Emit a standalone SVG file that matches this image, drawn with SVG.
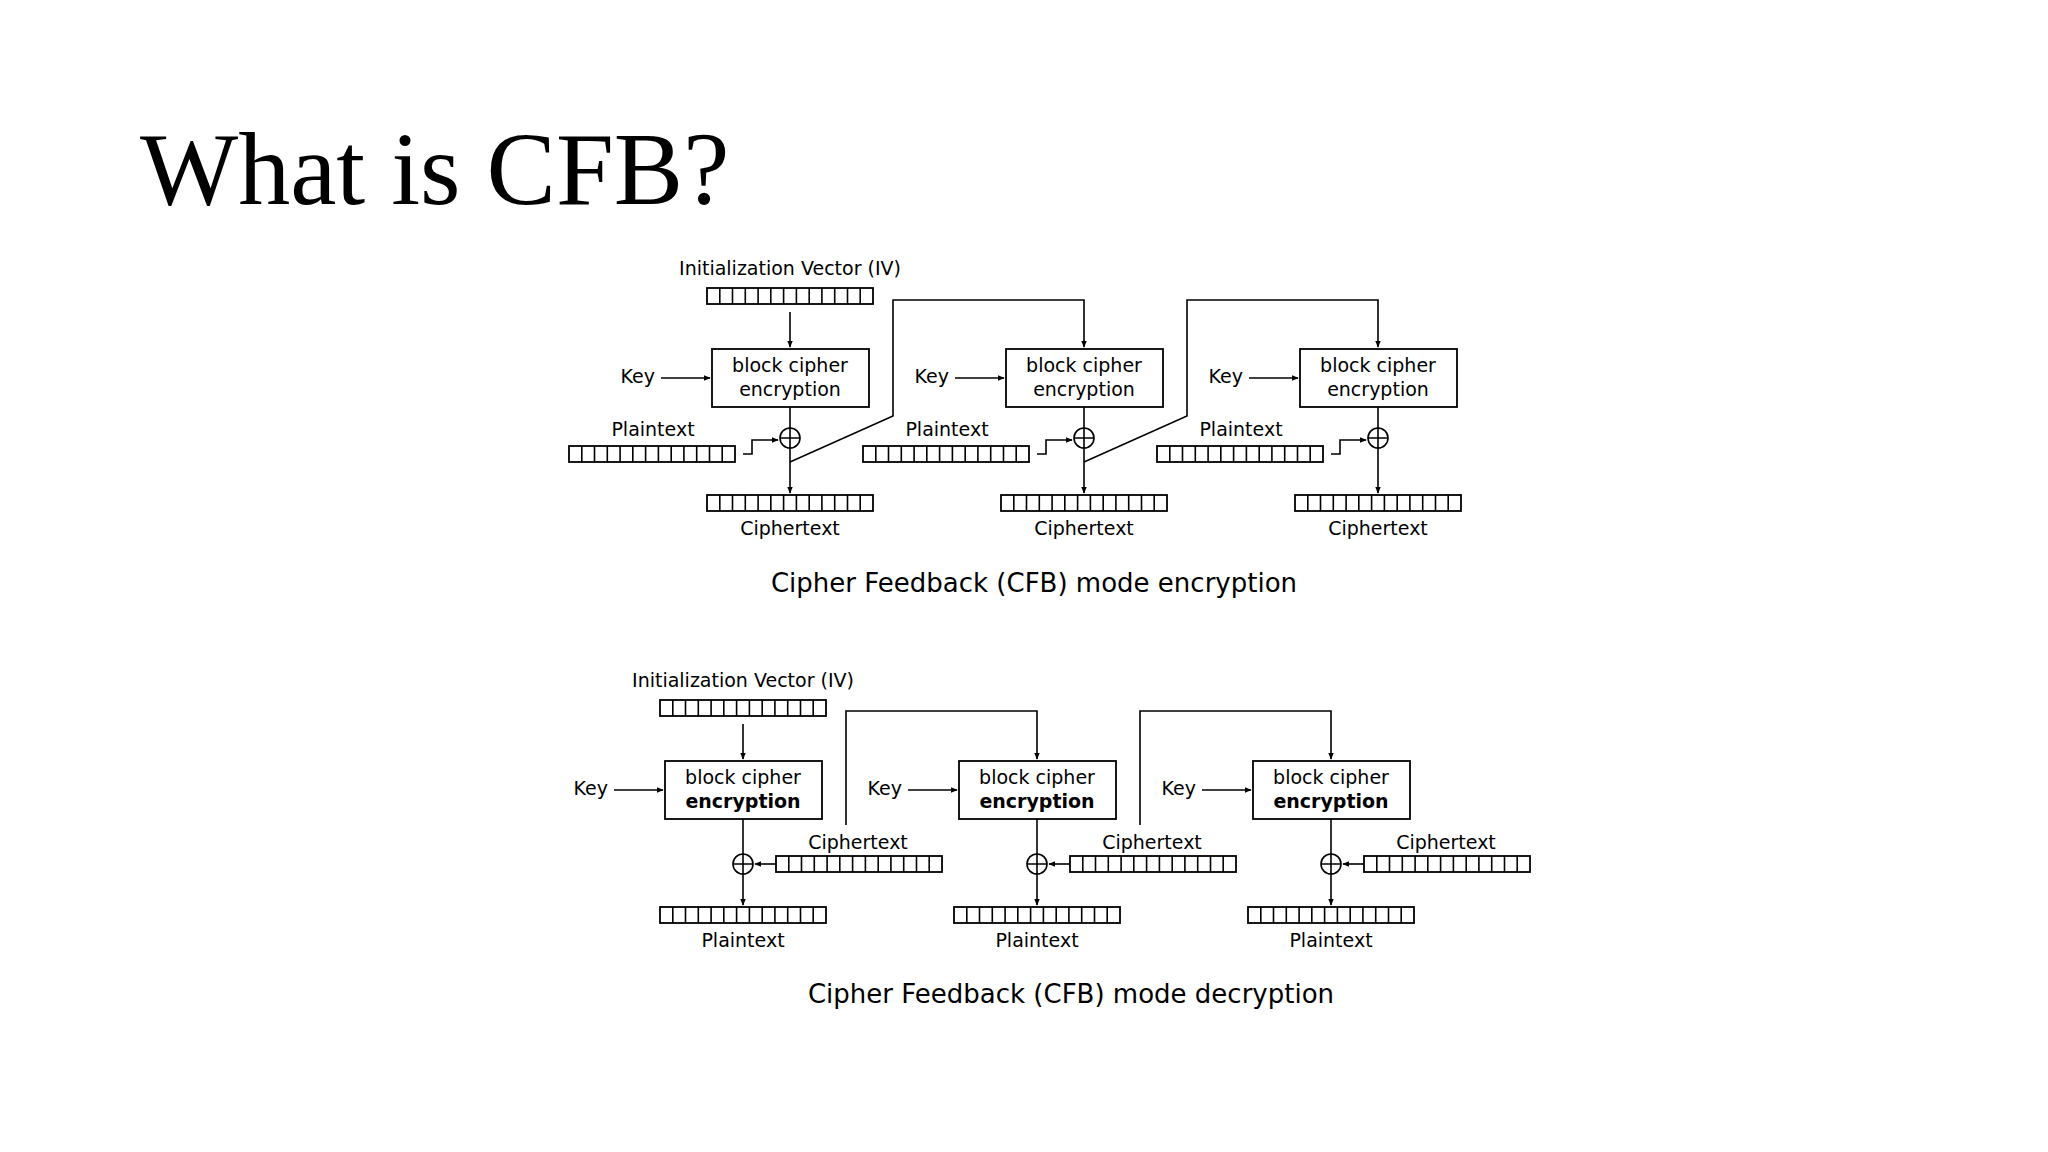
<svg xmlns="http://www.w3.org/2000/svg" xmlns:xlink="http://www.w3.org/1999/xlink" width="2048" height="1152" viewBox="0 0 2048 1152">
<style>
.t{font-family:"DejaVu Sans",sans-serif;font-size:19px;fill:#000}
.m{text-anchor:middle}
.e{text-anchor:end}
.b{font-weight:bold}
.cap{font-family:"DejaVu Sans",sans-serif;font-size:26px;text-anchor:middle}
.ln{fill:none;stroke:#000;stroke-width:1.6}
.ar{fill:none;stroke:#000;stroke-width:1.6;marker-end:url(#ah)}
.bx{fill:#fff;stroke:#000;stroke-width:1.8}
</style>
<defs>
<marker id="ah" viewBox="0 0 10 10" refX="9" refY="5" markerWidth="7" markerHeight="7" orient="auto" markerUnits="userSpaceOnUse"><path d="M0,1 L10,5 L0,9 z" fill="#000"/></marker>
<g id="bar"><rect x="0" y="0" width="166" height="16" class="bx"/><path class="ln" d="M12.8,0V16M25.5,0V16M38.3,0V16M51.1,0V16M63.8,0V16M76.6,0V16M89.4,0V16M102.2,0V16M114.9,0V16M127.7,0V16M140.5,0V16M153.2,0V16"/></g>
<g id="xor"><circle cx="0" cy="0" r="10" class="ln"/><path class="ln" d="M-10,0H10M0,-10V10"/></g>
</defs>
<rect width="2048" height="1152" fill="#fff"/>
<text x="140" y="204" font-family="Liberation Serif,serif" font-size="104">What is CFB?</text>

<g id="enc1">
<text class="t m" x="790" y="275">Initialization Vector (IV)</text>
<use href="#bar" x="707" y="288"/>
<rect class="bx" x="712" y="349" width="157" height="58"/>
<text class="t m" x="790" y="372">block cipher</text><text class="t m" x="790" y="396">encryption</text>
<text class="t e" x="655" y="383">Key</text>
<text class="t m" x="653" y="436">Plaintext</text><use href="#bar" x="569" y="446"/>
<use href="#xor" x="790" y="438"/>
<use href="#bar" x="707" y="495"/><text class="t m" x="790" y="535">Ciphertext</text>
</g>
<g id="enc2">
<use href="#bar" x="1001" y="288" visibility="hidden"/>
<rect class="bx" x="1006" y="349" width="157" height="58"/>
<text class="t m" x="1084" y="372">block cipher</text><text class="t m" x="1084" y="396">encryption</text>
<text class="t e" x="949" y="383">Key</text>
<text class="t m" x="947" y="436">Plaintext</text><use href="#bar" x="863" y="446"/>
<use href="#xor" x="1084" y="438"/>
<use href="#bar" x="1001" y="495"/><text class="t m" x="1084" y="535">Ciphertext</text>
</g>
<g id="enc3">
<rect class="bx" x="1300" y="349" width="157" height="58"/>
<text class="t m" x="1378" y="372">block cipher</text><text class="t m" x="1378" y="396">encryption</text>
<text class="t e" x="1243" y="383">Key</text>
<text class="t m" x="1241" y="436">Plaintext</text><use href="#bar" x="1157" y="446"/>
<use href="#xor" x="1378" y="438"/>
<use href="#bar" x="1295" y="495"/><text class="t m" x="1378" y="535">Ciphertext</text>
</g>
<text class="cap" x="1034" y="592">Cipher Feedback (CFB) mode encryption</text>

<g id="dec1">
<text class="t m" x="743" y="687">Initialization Vector (IV)</text>
<use href="#bar" x="660" y="700"/>
<rect class="bx" x="665" y="761" width="157" height="58"/>
<text class="t m" x="743" y="784">block cipher</text><text class="t m b" x="743" y="808">encryption</text>
<text class="t e" x="608" y="795">Key</text>
<text class="t m" x="858" y="849">Ciphertext</text><use href="#bar" x="776" y="856"/>
<use href="#xor" x="743" y="864"/>
<use href="#bar" x="660" y="907"/><text class="t m" x="743" y="947">Plaintext</text>
</g>
<g id="dec2">
<rect class="bx" x="959" y="761" width="157" height="58"/>
<text class="t m" x="1037" y="784">block cipher</text><text class="t m b" x="1037" y="808">encryption</text>
<text class="t e" x="902" y="795">Key</text>
<text class="t m" x="1152" y="849">Ciphertext</text><use href="#bar" x="1070" y="856"/>
<use href="#xor" x="1037" y="864"/>
<use href="#bar" x="954" y="907"/><text class="t m" x="1037" y="947">Plaintext</text>
</g>
<g id="dec3">
<rect class="bx" x="1253" y="761" width="157" height="58"/>
<text class="t m" x="1331" y="784">block cipher</text><text class="t m b" x="1331" y="808">encryption</text>
<text class="t e" x="1196" y="795">Key</text>
<text class="t m" x="1446" y="849">Ciphertext</text><use href="#bar" x="1364" y="856"/>
<use href="#xor" x="1331" y="864"/>
<use href="#bar" x="1248" y="907"/><text class="t m" x="1331" y="947">Plaintext</text>
</g>
<text class="cap" x="1071" y="1003">Cipher Feedback (CFB) mode decryption</text>

<g id="connectors">
<path class="ar" d="M790,312V347"/>
<path class="ar" d="M661,378H710"/><path class="ar" d="M955,378H1004"/><path class="ar" d="M1249,378H1298"/>
<path class="ln" d="M790,407V428"/><path class="ln" d="M1084,407V428"/><path class="ln" d="M1378,407V428"/>
<path class="ar" d="M790,448V493"/><path class="ar" d="M1084,448V493"/><path class="ar" d="M1378,448V493"/>
<path class="ar" d="M743,454H752V440H778"/><path class="ar" d="M1037,454H1046V440H1072"/><path class="ar" d="M1331,454H1340V440H1366"/>
<path class="ar" d="M790,462L893,416V300H1084V347"/>
<path class="ar" d="M1084,462L1187,416V300H1378V347"/>

<path class="ar" d="M743,724V759"/>
<path class="ar" d="M614,790H663"/><path class="ar" d="M908,790H957"/><path class="ar" d="M1202,790H1251"/>
<path class="ln" d="M743,819V854"/><path class="ln" d="M1037,819V854"/><path class="ln" d="M1331,819V854"/>
<path class="ar" d="M743,874V905"/><path class="ar" d="M1037,874V905"/><path class="ar" d="M1331,874V905"/>
<path class="ar" d="M776,864H755"/><path class="ar" d="M1070,864H1049"/><path class="ar" d="M1364,864H1343"/>
<path class="ar" d="M846,825V711H1037V759"/>
<path class="ar" d="M1140,825V711H1331V759"/>
</g>
</svg>
